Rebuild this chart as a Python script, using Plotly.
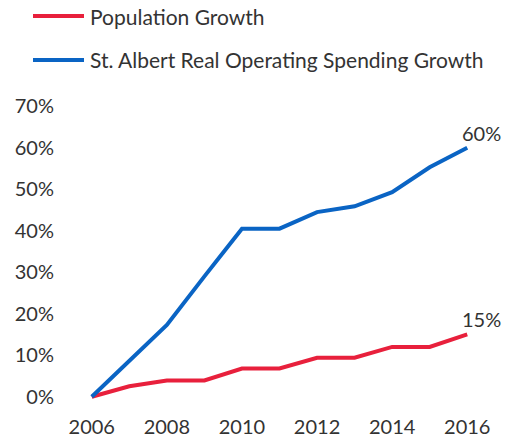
import plotly.graph_objects as go

years = [2006, 2007, 2008, 2009, 2010, 2011, 2012, 2013, 2014, 2015, 2016]
population_growth = [0, 2.5, 3.9, 3.9, 6.8, 6.8, 9.4, 9.4, 12.0, 12.0, 15]
spending_growth = [0, 8.6, 17.3, 29.0, 40.5, 40.5, 44.5, 45.9, 49.3, 55.3, 60]
series_names = ["Population Growth", "St. Albert Real Operating Spending Growth"]
y_ticks = [0, 10, 20, 30, 40, 50, 60, 70]
x_ticks = [2006, 2008, 2010, 2012, 2014, 2016]

RED = "#E8203C"
BLUE = "#0A64C4"
FONT = "Lato"
TEXT = "#333333"

# plot area in pixels
L, R, T, B = 73, 26, 98, 34
PW, PH = 512 - L - R, 439 - T - B

fig = go.Figure()
fig.add_trace(go.Scatter(x=years, y=population_growth, mode="lines",
                         line=dict(color=RED, width=4), name=series_names[0],
                         showlegend=False, cliponaxis=False))
fig.add_trace(go.Scatter(x=years, y=spending_growth, mode="lines",
                         line=dict(color=BLUE, width=4), name=series_names[1],
                         showlegend=False, cliponaxis=False))

# end-of-line value labels
for vals in (spending_growth, population_growth):
    fig.add_annotation(x=years[-1], y=vals[-1], text=f"{vals[-1]:.0f}%",
                       showarrow=False, xanchor="left", yanchor="bottom",
                       xshift=-7, yshift=1,
                       font=dict(family=FONT, size=20, color=TEXT))

# legend drawn as line samples with labels above the plot
legend_y = [16, 60]
for name, color, yy in zip(series_names, [RED, BLUE], legend_y):
    py = (439 - B - yy) / PH
    fig.add_shape(type="line", xref="paper", yref="paper",
                  x0=(33 - L) / PW, x1=(84 - L) / PW, y0=py, y1=py,
                  line=dict(color=color, width=4))
    fig.add_annotation(xref="paper", yref="paper",
                       x=(88 - L) / PW, y=py,
                       text=name, showarrow=False, xanchor="left", yanchor="middle",
                       font=dict(family=FONT, size=21, color=TEXT))

fig.update_layout(
    width=512, height=439,
    margin=dict(l=L, r=R, t=T, b=B),
    paper_bgcolor="white", plot_bgcolor="white",
    font=dict(family=FONT, size=20, color=TEXT),
    xaxis=dict(range=[2005.5, 2016.5], tickvals=x_ticks, showgrid=False,
               zeroline=False, showline=False, ticks="", ticklabelstandoff=8,
               automargin=False),
    yaxis=dict(range=[-2, 72], tickvals=y_ticks, ticktext=[f"{v}%" for v in y_ticks],
               showgrid=False, zeroline=False, showline=False, ticks="",
               ticklabelstandoff=18, automargin=False),
)

fig.write_html("out.html")
